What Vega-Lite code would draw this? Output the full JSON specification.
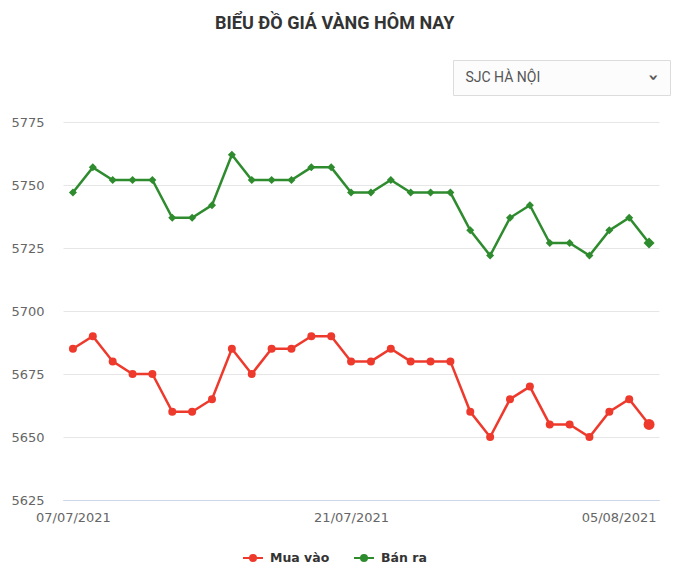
{
  "$schema": "https://vega.github.io/schema/vega-lite/v6.json",
  "padding": {"left": 10, "top": 14, "right": 5, "bottom": 5},
  "background": "#ffffff",
  "title": {"text": "BIỂU ĐỒ GIÁ VÀNG HÔM NAY", "font": "Roboto", "fontSize": 18, "fontWeight": "bold", "color": "#333333", "anchor": "middle", "offset": 27, "dx": -6},
  "config": {"view": {"stroke": null}, "font": "DejaVu Sans"},
  "spacing": 20,
  "vconcat": [
    {
      "spacing": 0,
      "hconcat": [
        {"width": 389, "height": 35, "data": {"values": []}, "mark": "point"},
        {
          "width": 217, "height": 35,
          "view": {"stroke": "#dcdcdc", "fill": "#fcfcfc"},
          "data": {"values": [{"label": "SJC HÀ NỘI"}]},
          "layer": [
            {"mark": {"type": "text", "align": "left", "baseline": "middle", "dx": -96, "font": "Roboto", "fontSize": 14, "color": "#555555"},
             "encoding": {"text": {"field": "label", "type": "nominal"}}},
            {"mark": {"type": "text", "align": "center", "baseline": "middle", "dx": 0, "dy": -91, "angle": 90, "font": "DejaVu Sans", "fontSize": 18, "fontWeight": "bold", "color": "#555555", "text": "›"},
             "encoding": {}}
          ]
        }
      ]
    },
    {
      "width": 596,
      "height": 378,
      "data": {"values": [
        {"date": "2021-07-07", "series": "Mua vào", "price": 5685},
        {"date": "2021-07-08", "series": "Mua vào", "price": 5690},
        {"date": "2021-07-09", "series": "Mua vào", "price": 5680},
        {"date": "2021-07-10", "series": "Mua vào", "price": 5675},
        {"date": "2021-07-11", "series": "Mua vào", "price": 5675},
        {"date": "2021-07-12", "series": "Mua vào", "price": 5660},
        {"date": "2021-07-13", "series": "Mua vào", "price": 5660},
        {"date": "2021-07-14", "series": "Mua vào", "price": 5665},
        {"date": "2021-07-15", "series": "Mua vào", "price": 5685},
        {"date": "2021-07-16", "series": "Mua vào", "price": 5675},
        {"date": "2021-07-17", "series": "Mua vào", "price": 5685},
        {"date": "2021-07-18", "series": "Mua vào", "price": 5685},
        {"date": "2021-07-19", "series": "Mua vào", "price": 5690},
        {"date": "2021-07-20", "series": "Mua vào", "price": 5690},
        {"date": "2021-07-21", "series": "Mua vào", "price": 5680},
        {"date": "2021-07-22", "series": "Mua vào", "price": 5680},
        {"date": "2021-07-23", "series": "Mua vào", "price": 5685},
        {"date": "2021-07-24", "series": "Mua vào", "price": 5680},
        {"date": "2021-07-25", "series": "Mua vào", "price": 5680},
        {"date": "2021-07-26", "series": "Mua vào", "price": 5680},
        {"date": "2021-07-27", "series": "Mua vào", "price": 5660},
        {"date": "2021-07-28", "series": "Mua vào", "price": 5650},
        {"date": "2021-07-29", "series": "Mua vào", "price": 5665},
        {"date": "2021-07-30", "series": "Mua vào", "price": 5670},
        {"date": "2021-07-31", "series": "Mua vào", "price": 5655},
        {"date": "2021-08-01", "series": "Mua vào", "price": 5655},
        {"date": "2021-08-02", "series": "Mua vào", "price": 5650},
        {"date": "2021-08-03", "series": "Mua vào", "price": 5660},
        {"date": "2021-08-04", "series": "Mua vào", "price": 5665},
        {"date": "2021-08-05", "series": "Mua vào", "price": 5655},
        {"date": "2021-07-07", "series": "Bán ra", "price": 5747},
        {"date": "2021-07-08", "series": "Bán ra", "price": 5757},
        {"date": "2021-07-09", "series": "Bán ra", "price": 5752},
        {"date": "2021-07-10", "series": "Bán ra", "price": 5752},
        {"date": "2021-07-11", "series": "Bán ra", "price": 5752},
        {"date": "2021-07-12", "series": "Bán ra", "price": 5737},
        {"date": "2021-07-13", "series": "Bán ra", "price": 5737},
        {"date": "2021-07-14", "series": "Bán ra", "price": 5742},
        {"date": "2021-07-15", "series": "Bán ra", "price": 5762},
        {"date": "2021-07-16", "series": "Bán ra", "price": 5752},
        {"date": "2021-07-17", "series": "Bán ra", "price": 5752},
        {"date": "2021-07-18", "series": "Bán ra", "price": 5752},
        {"date": "2021-07-19", "series": "Bán ra", "price": 5757},
        {"date": "2021-07-20", "series": "Bán ra", "price": 5757},
        {"date": "2021-07-21", "series": "Bán ra", "price": 5747},
        {"date": "2021-07-22", "series": "Bán ra", "price": 5747},
        {"date": "2021-07-23", "series": "Bán ra", "price": 5752},
        {"date": "2021-07-24", "series": "Bán ra", "price": 5747},
        {"date": "2021-07-25", "series": "Bán ra", "price": 5747},
        {"date": "2021-07-26", "series": "Bán ra", "price": 5747},
        {"date": "2021-07-27", "series": "Bán ra", "price": 5732},
        {"date": "2021-07-28", "series": "Bán ra", "price": 5722},
        {"date": "2021-07-29", "series": "Bán ra", "price": 5737},
        {"date": "2021-07-30", "series": "Bán ra", "price": 5742},
        {"date": "2021-07-31", "series": "Bán ra", "price": 5727},
        {"date": "2021-08-01", "series": "Bán ra", "price": 5727},
        {"date": "2021-08-02", "series": "Bán ra", "price": 5722},
        {"date": "2021-08-03", "series": "Bán ra", "price": 5732},
        {"date": "2021-08-04", "series": "Bán ra", "price": 5737},
        {"date": "2021-08-05", "series": "Bán ra", "price": 5727}
      ]},
      "encoding": {
        "x": {
          "field": "date", "type": "temporal", "title": null,
          "scale": {"type": "utc", "domain": [{"year": 2021, "month": 7, "date": 6, "hours": 12, "utc": true}, {"year": 2021, "month": 8, "date": 5, "hours": 12, "utc": true}]},
          "axis": {
            "values": [{"year": 2021, "month": 7, "date": 7, "utc": true}, {"year": 2021, "month": 7, "date": 21, "utc": true}, {"year": 2021, "month": 8, "date": 5, "utc": true}],
            "labelExpr": "utcFormat(datum.value, '%d/%m/%Y')",
            "grid": false, "ticks": false, "tickSize": 0,
            "domainColor": "#ccd6eb", "domainWidth": 1,
            "labelPadding": 11, "labelFont": "DejaVu Sans", "labelFontSize": 13, "labelColor": "#666666",
            "labelAlign": {"condition": {"test": "datum.value > 1627776000000", "value": "right"}, "value": "center"},
            "labelOffset": {"condition": {"test": "datum.value > 1627776000000", "value": 7}, "value": 0}
          }
        },
        "y": {
          "field": "price", "type": "quantitative", "title": null,
          "scale": {"domain": [5625, 5775], "zero": false, "nice": false},
          "axis": {
            "values": [5625, 5650, 5675, 5700, 5725, 5750, 5775], "format": "d",
            "domain": false, "ticks": false, "tickSize": 0, "labelPadding": 19,
            "labelFont": "DejaVu Sans", "labelFontSize": 13, "labelColor": "#666666",
            "gridColor": {"condition": {"test": "datum.value == 5625", "value": "#ccd6eb"}, "value": "#e6e6e6"}
          }
        }
      },
      "layer": [
        {
          "mark": {"type": "line", "strokeWidth": 2.5},
          "encoding": {
            "color": {
              "field": "series", "type": "nominal",
              "scale": {"domain": ["Mua vào", "Bán ra"], "range": ["#ee3a2c", "#2e8b2e"]},
              "legend": {
                "orient": "none", "legendX": 179, "legendY": 487, "direction": "horizontal", "title": null,
                "symbolType": "M-1,0H1M0.3,0A0.3,0.3,0,1,1,-0.3,0A0.3,0.3,0,1,1,0.3,0M0.12,0A0.12,0.12,0,1,1,-0.12,0A0.12,0.12,0,1,1,0.12,0",
                "symbolSize": 400, "symbolStrokeWidth": 2, "symbolOpacity": 1,
                "labelFont": "DejaVu Sans", "labelFontSize": 12.5, "labelFontWeight": "bold", "labelColor": "#333333",
                "labelOffset": 6, "columnPadding": 20
              }
            }
          }
        },
        {
          "transform": [{"filter": "datum.series == 'Mua vào'"}],
          "mark": {"type": "point", "filled": true, "opacity": 1, "shape": "circle"},
          "encoding": {
            "color": {"field": "series", "type": "nominal", "legend": null},
            "size": {"condition": {"test": "utcmonth(datum.date) == 7 && utcdate(datum.date) == 5", "value": 120}, "value": 64}
          }
        },
        {
          "transform": [{"filter": "datum.series == 'Bán ra'"}],
          "mark": {"type": "point", "filled": true, "opacity": 1, "shape": "diamond"},
          "encoding": {
            "color": {"field": "series", "type": "nominal", "legend": null},
            "size": {"condition": {"test": "utcmonth(datum.date) == 7 && utcdate(datum.date) == 5", "value": 120}, "value": 64}
          }
        }
      ]
    }
  ]
}
